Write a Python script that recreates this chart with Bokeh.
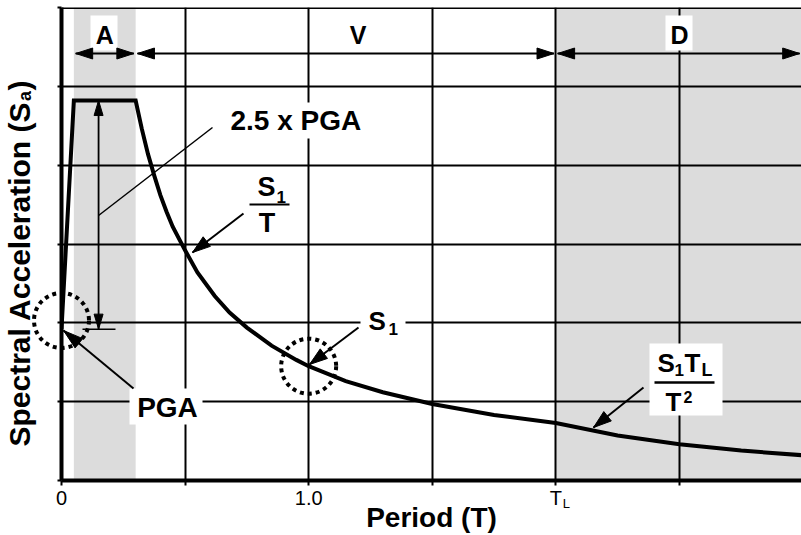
import math

from bokeh.plotting import figure
from bokeh.core.properties import value
from bokeh.models import FixedTicker, BoxAnnotation, Span, CustomJSTickFormatter
from bokeh.embed import file_html
from bokeh.resources import INLINE

# Design response spectrum: period T versus spectral acceleration Sa
period = [0.0, 0.05, 0.30, 0.325, 0.35, 0.375, 0.40, 0.425, 0.45, 0.50, 0.55,
          0.62, 0.68, 0.75, 0.85, 0.95, 1.00, 1.15, 1.30, 1.50, 1.75, 2.00,
          2.25, 2.50, 2.75, 3.00]
sa = [1.92, 4.82, 4.82, 4.46, 4.14, 3.87, 3.62, 3.41, 3.22, 2.92, 2.64,
      2.34, 2.13, 1.94, 1.71, 1.53, 1.45, 1.26, 1.12, 0.97, 0.83, 0.73,
      0.57, 0.46, 0.38, 0.32]

pga = 1.92          # peak ground acceleration (Sa at T = 0)
plateau = 4.82      # 2.5 x PGA
s1_period = 1.0
s1 = 1.45           # Sa at T = 1.0
t_long = 2.0        # long-period transition T_L

# Spectral regions: acceleration, velocity and displacement controlled
band_names = ["A", "V", "D"]
band_start = [0.05, 0.30, 2.00]
band_end = [0.30, 2.00, 3.00]
band_shaded = [True, False, True]

# Period axis labels
tick_values = [0.0, 1.0, 2.0]
tick_text = ["0", "1.0", "T"]

# ---------------------------------------------------------------------------
W, H = 801, 535
LEFT, RIGHT, TOP, BOTTOM = 61, 801, 7, 480
X_END, Y_END = 2.994, 6.0
PXX = (RIGHT - LEFT) / X_END
PXY = (BOTTOM - TOP) / Y_END
FONT = "Liberation Sans"


def dx(px):
    """canvas x pixel -> period"""
    return (px - LEFT) / PXX


def dy(py):
    """canvas y pixel -> acceleration"""
    return (BOTTOM - py) / PXY


p = figure(width=W, height=H, x_range=(0, X_END), y_range=(0, Y_END),
           output_backend="svg", toolbar_location=None, title=None,
           min_border_left=LEFT, min_border_right=0, min_border_top=TOP,
           min_border_bottom=H - BOTTOM)
p.outline_line_color = None
p.background_fill_color = "white"
p.border_fill_color = "white"

empty = CustomJSTickFormatter(code="return ''")
for ax, ticks, out in ((p.xaxis, [0, 0.5, 1.0, 1.5, 2.0, 2.5], 5),
                       (p.yaxis, [0, 1, 2, 3, 4, 5, 6], 4)):
    ax.ticker = FixedTicker(ticks=ticks)
    ax.formatter = empty
    ax.axis_line_width = 4
    ax.axis_line_color = "black"
    ax.major_tick_out = out
    ax.major_tick_in = 0
    ax.major_tick_line_width = 2
    ax.major_tick_line_color = "black"
    ax.minor_tick_line_color = None
    ax.major_label_text_font_size = "1px"

p.xgrid.ticker = FixedTicker(ticks=[0.5, 1.0, 1.5, 2.0, 2.5])
p.ygrid.ticker = FixedTicker(ticks=[1, 2, 3, 4, 5])
for g in (p.xgrid, p.ygrid):
    g.grid_line_color = "black"
    g.grid_line_width = 2
    g.grid_line_alpha = 1.0

p.add_layout(Span(location=Y_END, dimension="width", line_color="black",
                  line_width=3))

# shaded acceleration- and displacement-controlled regions
shaded = [i for i, s in enumerate(band_shaded) if s]
p.quad(left=[band_start[i] for i in shaded], right=[band_end[i] for i in shaded],
       bottom=0, top=Y_END, fill_color="#dcdcdc", line_color=None, level="image")

# white backings behind annotation text
for l, r, t, b in [(90, 117, 15, 50), (665, 692, 15, 50), (224, 370, 102, 138),
                   (129, 202, 388, 424), (360, 405, 306, 340), (649, 722, 343, 415)]:
    p.add_layout(BoxAnnotation(left=dx(l), right=dx(r), top=dy(t), bottom=dy(b),
                               fill_color="white", fill_alpha=1.0, line_color=None,
                               level="underlay"))

# spectrum curve
p.line(period, sa, line_color="black", line_width=4, line_join="miter")

# dotted markers around PGA and S1
p.scatter(x=[period[0], s1_period], y=[pga + 0.11, s1], size=55, marker="circle",
          fill_color=None, line_color="black", line_width=4, line_dash="4 4",
          level="overlay")


# --- arrows ----------------------------------------------------------------
seg_x0, seg_y0, seg_x1, seg_y1, seg_w = [], [], [], [], []
head_xs, head_ys = [], []


def add_head(tail, tip, length, half):
    sx0, sy0 = tail[0] * PXX, -tail[1] * PXY
    sx1, sy1 = tip[0] * PXX, -tip[1] * PXY
    d = math.hypot(sx1 - sx0, sy1 - sy0)
    ux, uy = (sx1 - sx0) / d, (sy1 - sy0) / d
    bx, by = sx1 - ux * length, sy1 - uy * length
    nx, ny = -uy, ux
    pts = [(sx1, sy1), (bx + nx * half, by + ny * half), (bx - nx * half, by - ny * half)]
    head_xs.append([q[0] / PXX for q in pts])
    head_ys.append([-q[1] / PXY for q in pts])


def add_seg(a, b, w):
    seg_x0.append(a[0]); seg_y0.append(a[1])
    seg_x1.append(b[0]); seg_y1.append(b[1])
    seg_w.append(w)


def arrow(tail, tip, length=18, half=6, w=2, both=False):
    add_seg(tail, tip, w)
    add_head(tail, tip, length, half)
    if both:
        add_head(tip, tail, length, half)


# region spans along the top
gap = 1.8 / PXX
top_y = dy(53)
for s, e in zip(band_start, band_end):
    arrow((s + gap, top_y), (min(e, X_END) - gap, top_y), length=17, half=5.5,
          w=2, both=True)

# 2.5 x PGA dimension
arrow((0.15, pga), (0.15, plateau), length=15, half=4.5, w=1.8, both=True)
add_seg((dx(82), pga), (dx(115), pga), 1.5)
add_seg((dx(212), dy(127)), (0.15, dy(215)), 1.5)

# pointers
arrow((dx(133), dy(388)), (dx(63), dy(330)), length=20)
arrow((dx(358), dy(327)), (dx(309), dy(364)))
arrow((dx(243), dy(213)), (dx(192), dy(252)))
arrow((dx(643), dy(387)), (dx(593), dy(427)))

# fraction bars
add_seg((dx(249), dy(204)), (dx(289), dy(204)), 2.2)
add_seg((dx(654), dy(382)), (dx(714), dy(382)), 2.5)

p.segment(x0=seg_x0, y0=seg_y0, x1=seg_x1, y1=seg_y1, line_color="black",
          line_width=seg_w)
p.patches(xs=head_xs, ys=head_ys, fill_color="black", line_color="black",
          line_width=1)


# --- text ------------------------------------------------------------------
def put(t, x, y, size, bold=True, align="left", baseline="middle", angle=0.0):
    p.text(x=[x], y=[y], text=[t], text_font=value(FONT),
           text_font_size=value(f"{size}px"),
           text_font_style="bold" if bold else "normal",
           text_color="black", text_align=align, text_baseline=baseline,
           angle=angle, level="overlay")


def text(t, px, py, size, **kw):
    put(t, dx(px), dy(py), size, **kw)


for name, s, e in zip(band_names, band_start, band_end):
    cx = 1.2 if name == "V" else (s + e) / 2
    put(name, cx, dy(34.5), 25, align="center")

text("2.5 x PGA", 230, 120, 28)
text("PGA", 167, 407, 28, align="center")

text("S", 368, 320, 26)
text("1", 388, 328, 17)

text("S", 257, 186, 27)
text("1", 276, 196, 17)
text("T", 266.5, 222, 27, align="center")

text("S", 657, 362, 26)
text("1", 674, 369, 17)
text("T", 684, 362, 26)
text("L", 701, 369, 18)
text("T", 665, 401, 26)
text("2", 683, 396, 16)

# period axis labels
for v, t in zip(tick_values, tick_text):
    put(t, v, dy(497), 20, bold=False, align="center")
put("L", t_long + dx(562) - dx(555), dy(503), 13, bold=False)
text("Period (T)", 431, 517, 28, align="center")

# vertical axis title with subscript
rot = math.pi / 2
text("Spectral Acceleration (S", 19, 446, 30, baseline="alphabetic", angle=rot)
text("a", 24, 100.5, 18, baseline="alphabetic", angle=rot)
text(")", 19, 90, 30, baseline="alphabetic", angle=rot)

open("out.html", "w").write(file_html(p, INLINE))
